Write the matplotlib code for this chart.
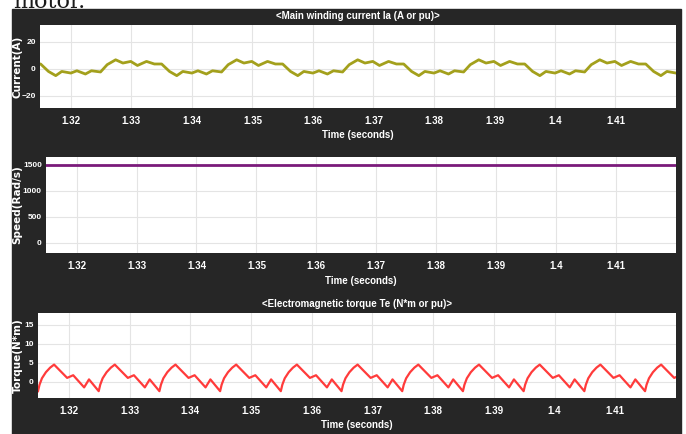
"""Simulink scope style plot: winding current, speed and torque vs time."""
import matplotlib
matplotlib.use("Agg")
import matplotlib.pyplot as plt
from matplotlib.patches import Rectangle

plt.rcParams["font.family"] = ["Liberation Sans", "DejaVu Sans"]

# x axis (seconds)
XLIM = (1.3149, 1.42)
XTICKS = [1.32, 1.33, 1.34, 1.35, 1.36, 1.37, 1.38, 1.39, 1.40, 1.41]
XTICK_LABELS = ["1.32", "1.33", "1.34", "1.35", "1.36", "1.37", "1.38", "1.39", "1.4", "1.41"]

# main winding current: one 20 ms cycle, starting at each peak
CURRENT_PEAKS = [1.3074, 1.3274, 1.3474, 1.3674, 1.3874, 1.4074]
CURRENT_CYCLE_MS = [0.0, 1.2, 2.5, 3.6, 5.1, 6.4, 7.6, 8.9, 10.1, 11.1, 12.6, 13.6, 15.0, 16.0, 17.5, 18.6]
CURRENT_CYCLE_A = [6.6, 4.2, 5.4, 2.4, 5.4, 3.5, 3.5, -2.0, -5.1, -2.0, -3.2, -1.5, -3.9, -1.5, -2.4, 3.0]

# rotor speed (rad/s)
SPEED_T = [1.3149, 1.42]
SPEED_W = [1490, 1490]

# electromagnetic torque: one 10 ms cycle, starting at each minimum
TORQUE_MINS = [1.3149, 1.3249, 1.3349, 1.3449, 1.3549, 1.3649, 1.3749, 1.3849, 1.3949, 1.4049, 1.4149]
TORQUE_CYCLE_MS = [0.0, 0.25, 0.65, 1.3, 2.0, 2.65, 4.8, 5.8, 7.6, 8.4]
TORQUE_CYCLE_NM = [-2.5, -0.8, 0.9, 2.5, 3.7, 4.5, 1.0, 1.7, -1.5, 0.6]

W, H = 686, 434
BG = "#262626"


def build(starts, offsets_ms, values):
    t, v = [], []
    for s in starts:
        for o, y in zip(offsets_ms, values):
            t.append(s + o / 1000.0)
            v.append(y)
    return t, v


def panel(fig, box, ylim, yticks, ylabel, title=None):
    x0, y0, x1, y1 = box
    ax = fig.add_axes([x0 / W, 1 - y1 / H, (x1 - x0) / W, (y1 - y0) / H])
    ax.set_facecolor("white")
    for s in ax.spines.values():
        s.set_visible(False)
    ax.set_xlim(*XLIM)
    ax.set_ylim(*ylim)
    ax.set_xticks(XTICKS)
    ax.set_xticklabels(XTICK_LABELS)
    ax.set_yticks(yticks)
    ax.tick_params(colors="white", length=0)
    ax.tick_params(axis="x", pad=6, labelsize=7)
    ax.tick_params(axis="y", pad=3, labelsize=6)
    for lab in ax.get_xticklabels() + ax.get_yticklabels():
        lab.set_fontweight("bold")
    ax.grid(True, color="#e4e4e4", linewidth=0.8)
    ax.set_axisbelow(True)
    ax.set_xlabel("Time (seconds)", color="white", fontsize=7, fontweight="bold", labelpad=3)
    if title:
        ax.set_title(title, color="white", fontsize=7, fontweight="bold", pad=4)
    fig.text(17.5 / W, 1 - (y0 + y1) / 2 / H, ylabel, rotation=90, ha="center", va="center",
             color="white", fontsize=7.5, fontweight="bold", family="DejaVu Sans")
    return ax


fig = plt.figure(figsize=(W / 100, H / 100), dpi=100)
fig.patch.set_facecolor("white")
fig.add_artist(Rectangle((12 / W, 0), (681 - 12) / W, (H - 9) / H, transform=fig.transFigure,
                         color=BG, zorder=-1))
fig.text(13 / W, 1 - 8 / H, "motor.", family="DejaVu Serif", fontsize=16, va="baseline",
         ha="left", color="#1a1a1a")

ax1 = panel(fig, (40, 25, 676, 108), (-29, 32.3), [-20, 0, 20], "Current(A)",
            "<Main winding current Ia (A or pu)>")
t, v = build(CURRENT_PEAKS, CURRENT_CYCLE_MS, CURRENT_CYCLE_A)
ax1.plot(t, v, color="#a3a01c", linewidth=2.0)

ax2 = panel(fig, (46, 157, 676, 253), (-195, 1650), [0, 500, 1000, 1500], "Speed(Rad/s)")
ax2.plot(SPEED_T, SPEED_W, color="#7a1a7a", linewidth=2.0)

ax3 = panel(fig, (38, 313, 676, 398), (-4.3, 18.1), [0, 5, 10, 15], "Torque(N*m)",
            "<Electromagnetic torque Te (N*m or pu)>")
t, v = build(TORQUE_MINS, TORQUE_CYCLE_MS, TORQUE_CYCLE_NM)
ax3.plot(t, v, color="#ff3b3b", linewidth=1.6)

fig.savefig("out.png", dpi=100)
